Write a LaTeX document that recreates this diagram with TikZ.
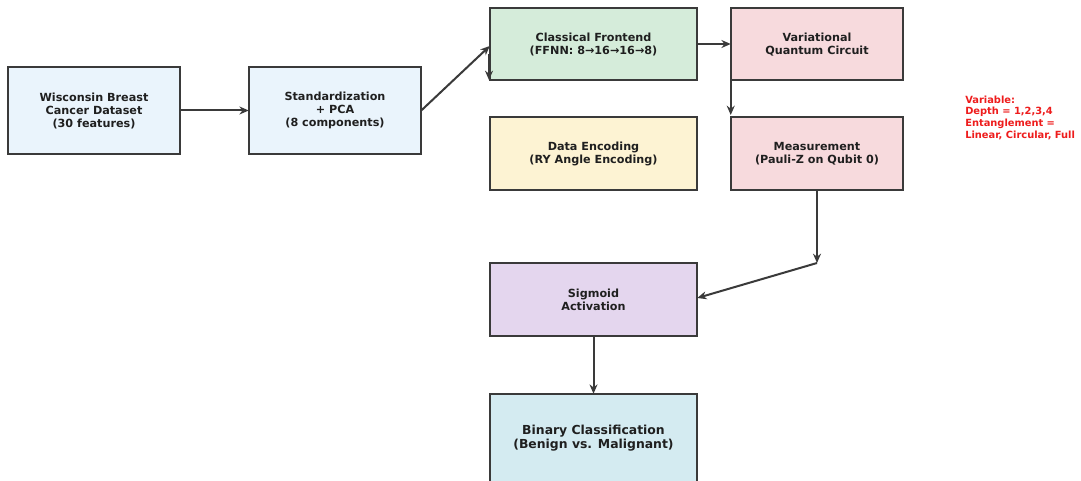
\documentclass[tikz,border=0pt]{standalone}
\usepackage{fontspec}
\setmainfont{DejaVu Sans}
\usetikzlibrary{arrows.meta}
\definecolor{cblue}{HTML}{EAF4FC}
\definecolor{cgreen}{HTML}{D5ECDA}
\definecolor{cpink}{HTML}{F7DADD}
\definecolor{cyellow}{HTML}{FDF3D3}
\definecolor{cpurple}{HTML}{E4D6EE}
\definecolor{ccyan}{HTML}{D4EBF1}
\definecolor{cline}{HTML}{3A3A3A}
\definecolor{cred}{HTML}{EE1C1C}
\tikzset{
  arr/.style={draw=cline, line width=1.5pt, -{Stealth[length=7pt,width=6pt]}},
  lbl/.style={align=center, font=\bfseries\fontsize{8.4}{9.75}\selectfont, text=black!88}
}
\newcommand{\mybox}[6]{%
  \draw[cline, line width=1.1pt, fill=#6] (#2,#3) rectangle (#4,#5);
  \node (#1) [inner sep=0pt, minimum width={(#4-#2)*0.75pt}, minimum height={(#5-#3)*0.75pt}] at ({(#2+#4)/2},{(#3+#5)/2}) {};
}
\begin{document}
\begin{tikzpicture}[x=0.75pt,y=-0.75pt]
\useasboundingbox (0,0) rectangle (1081,481);
\fill[white] (0,0) rectangle (1081,481);
\mybox{wis}{8}{67}{180}{154}{cblue}
\mybox{std}{249}{67}{421}{154}{cblue}
\mybox{cf}{490}{8}{697}{80}{cgreen}
\mybox{vqc}{731}{8}{903}{80}{cpink}
\mybox{enc}{490}{117}{697}{190}{cyellow}
\mybox{meas}{731}{117}{903}{190}{cpink}
\mybox{sig}{490}{263}{697}{336}{cpurple}
\mybox{bin}{490}{394}{697}{500}{ccyan}
\node[lbl] (twis) at (94,110.5) {Wisconsin Breast\\Cancer Dataset\\(30 features)};
\node[lbl] (tstd) at (335,110.5) {Standardization\\+ PCA\\(8 components)};
\node[lbl] (tcf) at (593.5,44.5) {Classical Frontend\\(FFNN: 8→16→16→8)};
\node[lbl] (tvqc) at (817,44.5) {Variational\\Quantum Circuit};
\node[lbl] (tenc) at (593.5,154) {Data Encoding\\(RY Angle Encoding)};
\node[lbl] (tmeas) at (817,154) {Measurement\\(Pauli-Z on Qubit 0)};
\node[lbl] (tsig) at (593.5,300) {Sigmoid\\Activation};
\node[lbl, font=\bfseries\fontsize{9.3}{10.5}\selectfont] (tbin) at (593.5,438.5) {Binary Classification\\(Benign vs. Malignant)};
\node[align=left, anchor=north west, font=\bfseries\fontsize{7.4}{8.8}\selectfont, text=cred, inner sep=0pt] (var) at (965,95.5) {Variable:\\Depth = 1,2,3,4\\Entanglement =\\Linear, Circular, Full};
% connectors
\coordinate (c1) at (489,54);
\coordinate (c1e) at (489,80);
\coordinate (c2) at (817,263);
\draw[arr] (wis.east) -- (std.west);
\draw[arr] (std.east) -- (cf.west |- 0,46);
\draw[arr] (c1) -- (c1e);
\draw[arr] (cf.east |- 0,44) -- (vqc.west |- 0,44);
\draw[arr] (vqc.south west) -- (meas.north west |- 0,115);
\draw[arr] (meas.south) -- (c2);
\draw[arr] (c2) -- (sig.east |- 0,298);
\draw[arr] (sig.south) -- (bin.north);
\end{tikzpicture}
\end{document}
